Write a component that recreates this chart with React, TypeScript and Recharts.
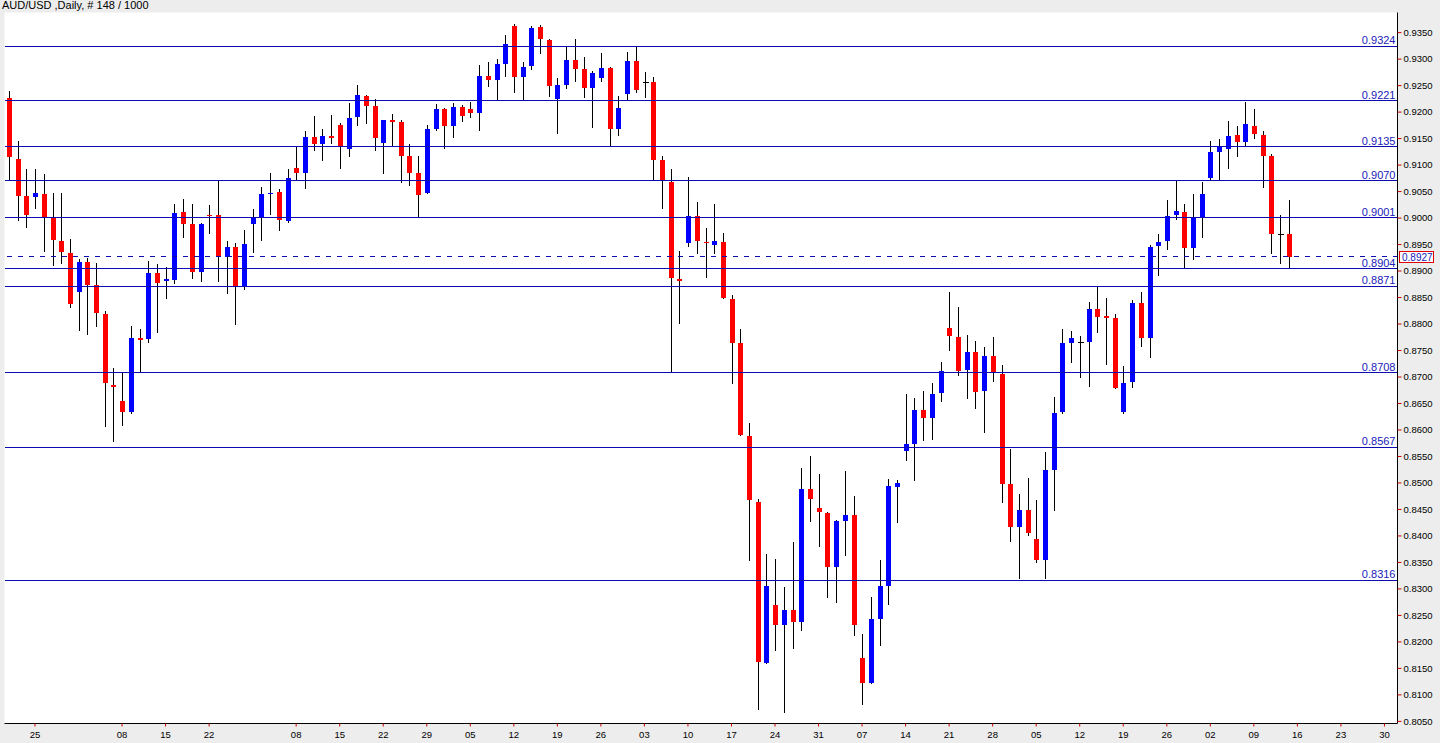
import React from "react";
import { ComposedChart, Bar, XAxis, YAxis, ReferenceLine, CartesianGrid } from "recharts";

// AUD/USD daily candles, 20 Jan .. 13 Aug
const OPEN = [
  0.9227, 0.9112, 0.9041, 0.9039, 0.9046, 0.9001, 0.8956, 0.8934, 0.886, 0.8917,
  0.8873, 0.8819, 0.8684, 0.8655, 0.8634, 0.8773, 0.8771, 0.8897, 0.8881, 0.8884,
  0.9012, 0.8988, 0.8899, 0.9006, 0.9005, 0.8926, 0.8946, 0.8869, 0.8988, 0.9,
  0.9047, 0.905, 0.8994, 0.9095, 0.9086, 0.9153, 0.9139, 0.9154, 0.9176, 0.9131,
  0.919, 0.9231, 0.9211, 0.9142, 0.9185, 0.9182, 0.9117, 0.9085, 0.9048, 0.9168,
  0.9206, 0.9173, 0.921, 0.9206, 0.9198, 0.9269, 0.9261, 0.9291, 0.9363, 0.9267,
  0.9287, 0.936, 0.9337, 0.9224, 0.9252, 0.9298, 0.9281, 0.9246, 0.9264, 0.9284,
  0.9168, 0.9235, 0.9296, 0.9256, 0.9256, 0.911, 0.9068, 0.8885, 0.8952, 0.9004,
  0.8955, 0.895, 0.8955, 0.8847, 0.8765, 0.8589, 0.8465, 0.8161, 0.827, 0.8232,
  0.8261, 0.8237, 0.8488, 0.8453, 0.8443, 0.8342, 0.8429, 0.844, 0.8169, 0.8123,
  0.8244, 0.8306, 0.8493, 0.8561, 0.8574, 0.8637, 0.8623, 0.867, 0.8793, 0.8776,
  0.8713, 0.8747, 0.8673, 0.874, 0.8706, 0.8498, 0.8416, 0.8449, 0.8395, 0.8355,
  0.8525, 0.8634, 0.8765, 0.8766, 0.8766, 0.8829, 0.8815, 0.8811, 0.8634, 0.869,
  0.884, 0.8773, 0.8947, 0.8956, 0.9005, 0.9012, 0.8943, 0.9001, 0.9075, 0.9124,
  0.9131, 0.9156, 0.9144, 0.9173, 0.9156, 0.9118, 0.8969, 0.8969,
];
const HIGH = [
  0.924, 0.9146, 0.9093, 0.9093, 0.9084, 0.9048, 0.9048, 0.8961, 0.8923, 0.8925,
  0.8916, 0.8824, 0.8717, 0.8708, 0.8797, 0.8791, 0.8919, 0.8914, 0.8907, 0.9027,
  0.9036, 0.9027, 0.899, 0.9024, 0.907, 0.8956, 0.8952, 0.8978, 0.9017, 0.9058,
  0.9086, 0.9054, 0.9093, 0.9135, 0.9164, 0.9193, 0.9168, 0.9195, 0.9179, 0.9218,
  0.9251, 0.9233, 0.9224, 0.9186, 0.9197, 0.9186, 0.914, 0.9117, 0.9176, 0.9215,
  0.9208, 0.9218, 0.9213, 0.922, 0.9289, 0.9295, 0.93, 0.9345, 0.9367, 0.9294,
  0.9362, 0.9365, 0.9338, 0.9265, 0.9323, 0.9338, 0.9304, 0.9278, 0.9311, 0.9286,
  0.9231, 0.9314, 0.9323, 0.9276, 0.9267, 0.9118, 0.9093, 0.8938, 0.9078, 0.9031,
  0.8981, 0.9027, 0.8972, 0.8854, 0.879, 0.8614, 0.8469, 0.8366, 0.8357, 0.8304,
  0.8389, 0.8529, 0.855, 0.8516, 0.8445, 0.8431, 0.8523, 0.8476, 0.8214, 0.8285,
  0.8355, 0.8507, 0.8505, 0.8668, 0.8661, 0.8674, 0.8688, 0.8729, 0.886, 0.8832,
  0.878, 0.8768, 0.8757, 0.8775, 0.8722, 0.8565, 0.848, 0.851, 0.8467, 0.8559,
  0.8663, 0.8791, 0.8787, 0.8777, 0.8842, 0.8869, 0.8849, 0.8818, 0.872, 0.8845,
  0.886, 0.895, 0.897, 0.9034, 0.907, 0.9026, 0.9045, 0.9068, 0.9146, 0.9149,
  0.9184, 0.9173, 0.922, 0.9206, 0.9164, 0.9121, 0.9006, 0.9034,
];
const LOW = [
  0.907, 0.8994, 0.8981, 0.9018, 0.8936, 0.8909, 0.8914, 0.8831, 0.8786, 0.8779,
  0.8795, 0.8605, 0.8577, 0.8608, 0.863, 0.8708, 0.8764, 0.8784, 0.8847, 0.8875,
  0.8963, 0.8885, 0.8879, 0.897, 0.8879, 0.8856, 0.8799, 0.8865, 0.8934, 0.8956,
  0.9006, 0.8976, 0.899, 0.9072, 0.9054, 0.9126, 0.9108, 0.9139, 0.9093, 0.9115,
  0.9173, 0.9177, 0.9127, 0.9084, 0.9135, 0.9066, 0.9061, 0.9001, 0.9046, 0.9164,
  0.913, 0.9152, 0.9181, 0.9189, 0.9164, 0.9248, 0.9221, 0.9267, 0.9237, 0.9221,
  0.928, 0.9309, 0.9229, 0.9158, 0.9244, 0.9256, 0.9226, 0.917, 0.9256, 0.9135,
  0.9155, 0.9222, 0.9236, 0.9227, 0.907, 0.9018, 0.8708, 0.88, 0.8945, 0.8932,
  0.8886, 0.8932, 0.8847, 0.8686, 0.8588, 0.8353, 0.8071, 0.8159, 0.8183, 0.8065,
  0.8187, 0.8221, 0.8427, 0.838, 0.8282, 0.8273, 0.8362, 0.8212, 0.808, 0.812,
  0.8193, 0.827, 0.8424, 0.8541, 0.8503, 0.8579, 0.8581, 0.8652, 0.875, 0.8702,
  0.8659, 0.864, 0.8594, 0.869, 0.8462, 0.8388, 0.8318, 0.84, 0.8349, 0.8318,
  0.8447, 0.8631, 0.8726, 0.8699, 0.8681, 0.8784, 0.8723, 0.8677, 0.8631, 0.8679,
  0.8757, 0.8735, 0.8891, 0.8939, 0.8997, 0.8903, 0.892, 0.8963, 0.9072, 0.907,
  0.9093, 0.9115, 0.9135, 0.9149, 0.9057, 0.8932, 0.8914, 0.8904,
];
const CLOSE = [
  0.9115, 0.9041, 0.9005, 0.9048, 0.9001, 0.8958, 0.8936, 0.8838, 0.8917, 0.8874,
  0.882, 0.8688, 0.8682, 0.8634, 0.8773, 0.8769, 0.8897, 0.8877, 0.8885, 0.901,
  0.8988, 0.8899, 0.8988, 0.9003, 0.8926, 0.8945, 0.887, 0.8951, 0.9, 0.9046,
  0.9048, 0.8996, 0.9076, 0.9086, 0.9153, 0.914, 0.9155, 0.9152, 0.9134, 0.9189,
  0.9233, 0.9211, 0.9152, 0.9185, 0.9183, 0.9117, 0.9086, 0.9043, 0.9168, 0.9206,
  0.9173, 0.921, 0.9193, 0.9198, 0.9269, 0.9261, 0.9291, 0.9328, 0.9267, 0.9285,
  0.9358, 0.9338, 0.9249, 0.9251, 0.9298, 0.9282, 0.9246, 0.9274, 0.9284, 0.9168,
  0.9208, 0.9296, 0.9242, 0.9256, 0.911, 0.907, 0.8886, 0.8882, 0.9004, 0.8956,
  0.8952, 0.8956, 0.8849, 0.8765, 0.859, 0.8467, 0.8163, 0.8306, 0.8232, 0.8261,
  0.8237, 0.8489, 0.8469, 0.8445, 0.8342, 0.8429, 0.844, 0.8232, 0.8123, 0.8244,
  0.8306, 0.8494, 0.85, 0.8574, 0.8637, 0.8623, 0.8668, 0.8712, 0.8777, 0.8711,
  0.8748, 0.8672, 0.874, 0.8708, 0.8498, 0.8416, 0.8449, 0.8406, 0.8355, 0.8525,
  0.8632, 0.8765, 0.8773, 0.8766, 0.8829, 0.8814, 0.8811, 0.868, 0.8688, 0.884,
  0.8773, 0.8945, 0.8954, 0.9003, 0.9014, 0.8943, 0.9001, 0.9045, 0.9124, 0.9135,
  0.9155, 0.9144, 0.9177, 0.9158, 0.9118, 0.8969, 0.8969, 0.8927,
];

const EMPTY_SLOTS = 12; // blank days to the right of the last bar

const X_TICK_SLOTS = [3, 13, 18, 23, 33, 38, 43, 48, 53, 58, 63, 68, 73, 78, 83, 88, 93, 98, 103, 108, 113, 118, 123, 128, 133, 138, 143, 148, 153, 158];
const X_TICK_LABELS = ["25", "08", "15", "22", "08", "15", "22", "29", "05", "12", "19", "26", "03", "10", "17", "24", "31", "07", "14", "21", "28", "05", "12", "19", "26", "02", "09", "16", "23", "30"];

const Y_TICKS = [
  0.805, 0.81, 0.815, 0.82, 0.825, 0.83, 0.835, 0.84, 0.845, 0.85, 0.855, 0.86, 0.865, 0.87,
  0.875, 0.88, 0.885, 0.89, 0.895, 0.9, 0.905, 0.91, 0.915, 0.92, 0.925, 0.93, 0.935,
];

const LEVELS = [0.9324, 0.9221, 0.9135, 0.907, 0.9001, 0.8904, 0.8871, 0.8708, 0.8567, 0.8316];
const LAST_PRICE = 0.8927;

const BULL = "#0000ff";
const BEAR = "#ff0000";
const LEVEL_COLOR = "#0c0cb0";
const LEVEL_TEXT = "#2020b8";
const TICK_RED = "#cc0000";
const FONT = "'Liberation Sans', Arial, sans-serif";

const data = Array.from({ length: OPEN.length + EMPTY_SLOTS }, (_, i) =>
  i < OPEN.length
    ? { i, o: OPEN[i], h: HIGH[i], l: LOW[i], c: CLOSE[i] }
    : { i, o: null, h: null, l: null, c: null }
);

function Candle(props: any) {
  const { x, y, width, height, payload } = props;
  if (!payload || payload.o == null || !isFinite(y) || !isFinite(height)) return null;
  const { o, h, l, c } = payload;
  // bar rectangle spans high..low, interpolate open/close inside it
  const toY = (v: number) => y + ((h - v) / (h - l)) * height;
  const cx = Math.round(x + width / 2) + 0.5;
  const top = toY(Math.max(o, c));
  const bot = toY(Math.min(o, c));
  const color = c > o ? BULL : c < o ? BEAR : "#000";
  return (
    <g shapeRendering="crispEdges">
      <line x1={cx} x2={cx} y1={y} y2={y + height} stroke="#000" strokeWidth={1} />
      {c === o ? (
        <line x1={cx - 3} x2={cx + 3} y1={top} y2={top} stroke="#000" strokeWidth={1} />
      ) : (
        <rect x={cx - 2.5} y={top} width={5} height={Math.max(1.5, bot - top)} fill={color} />
      )}
    </g>
  );
}

function LevelLabel({ viewBox, value }: any) {
  if (!viewBox) return null;
  return (
    <text
      x={viewBox.x + viewBox.width - 2}
      y={viewBox.y - 2}
      textAnchor="end"
      fontSize={11}
      fontFamily={FONT}
      fill={LEVEL_TEXT}
    >
      {value.toFixed(4)}
    </text>
  );
}

function PriceTag({ viewBox }: any) {
  if (!viewBox) return null;
  const x = viewBox.x + viewBox.width + 1.5;
  const y = viewBox.y;
  return (
    <g>
      <rect x={x} y={Math.round(y) - 5.5} width={34} height={11} fill="#fff" stroke="#e00000" strokeWidth={1} shapeRendering="crispEdges" />
      <text x={x + 3} y={Math.round(y) + 3.5} fontSize={10} fontFamily={FONT} fill={LEVEL_TEXT}>
        {LAST_PRICE.toFixed(4)}
      </text>
    </g>
  );
}

export default function App() {
  return (
    <div style={{ position: "absolute", left: 0, top: 0, width: 1440, height: 743, background: "#ededed", overflow: "hidden" }}>
      <div style={{ position: "absolute", left: 2, top: -1, fontFamily: FONT, fontSize: 11, lineHeight: "13px", color: "#000", whiteSpace: "pre" }}>
        AUD/USD ,Daily, # 148 / 1000
      </div>
      <ComposedChart width={1440} height={743} data={data} margin={{ top: 12.5, right: 0, bottom: 0, left: 4.5 }}>
        <CartesianGrid fill="#ffffff" stroke="none" horizontal={false} vertical={false} />
        <XAxis
          dataKey="i"
          type="category"
          ticks={X_TICK_SLOTS}
          interval={0}
          tickFormatter={(v: number) => X_TICK_LABELS[X_TICK_SLOTS.indexOf(v)] ?? ""}
          height={19.5}
          tickSize={3}
          tickMargin={5}
          tickLine={{ stroke: TICK_RED }}
          axisLine={{ stroke: "#000" }}
          tick={{ fontSize: 9.5, fill: "#000", fontFamily: FONT }}
        />
        <XAxis xAxisId="top" dataKey="i" orientation="top" height={0} tick={false} tickLine={false} axisLine={{ stroke: "#000" }} />
        <YAxis
          orientation="right"
          type="number"
          domain={[0.8046, 0.9388]}
          allowDataOverflow
          ticks={Y_TICKS}
          interval={0}
          tickFormatter={(v: number) => v.toFixed(4)}
          width={42.5}
          tickSize={4}
          tickMargin={2}
          tickLine={{ stroke: TICK_RED }}
          axisLine={{ stroke: "#000" }}
          tick={{ fontSize: 9.5, fill: "#000", fontFamily: FONT }}
        />
        <YAxis yAxisId="left" orientation="left" type="number" domain={[0, 1]} width={0} tick={false} tickLine={false} axisLine={{ stroke: "#000" }} />
        {LEVELS.map((lv) => (
          <ReferenceLine
            key={lv}
            y={lv}
            stroke={LEVEL_COLOR}
            strokeWidth={1}
            shapeRendering="crispEdges"
            label={(p: any) => <LevelLabel {...p} value={lv} />}
          />
        ))}
        <ReferenceLine
          y={LAST_PRICE}
          stroke={LEVEL_COLOR}
          strokeDasharray="5 6"
          strokeWidth={1}
          shapeRendering="crispEdges"
          label={(p: any) => <PriceTag {...p} />}
        />
        <Bar
          dataKey={(d: any) => (d.o == null ? null : [d.l, d.h])}
          barSize={5}
          fill="transparent"
          isAnimationActive={false}
          shape={(p: any) => <Candle {...p} />}
        />
      </ComposedChart>
    </div>
  );
}
